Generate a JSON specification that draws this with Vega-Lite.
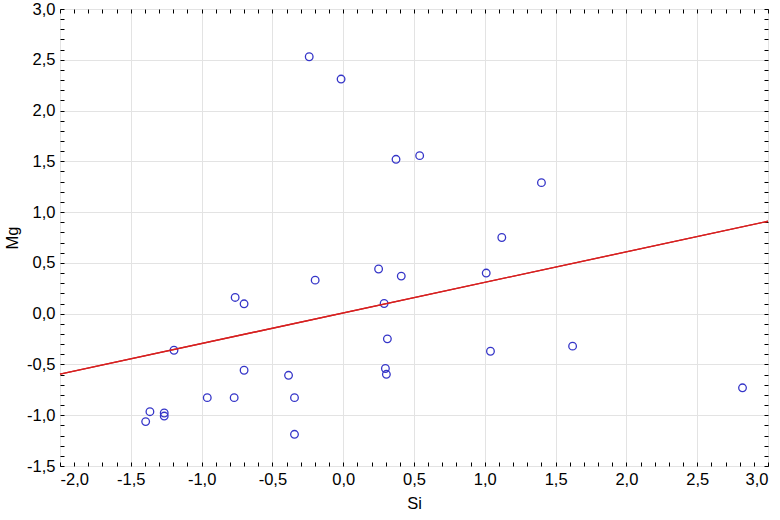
{
  "$schema": "https://vega.github.io/schema/vega-lite/v6.json",
  "width": 708,
  "height": 457,
  "autosize": {"type": "none"},
  "padding": {"left": 60, "top": 9, "right": 12, "bottom": 54},
  "background": "white",
  "config": {
    "view": {"stroke": "#000000", "strokeWidth": 1},
    "font": "Liberation Sans, Arial, sans-serif",
    "axis": {
      "labelFont": "Liberation Sans, Arial, sans-serif",
      "titleFont": "Liberation Sans, Arial, sans-serif",
      "labelFontSize": 16.5,
      "titleFontSize": 16.5,
      "labelColor": "#000000",
      "titleColor": "#000000",
      "titleFontWeight": "normal",
      "gridColor": "#e3e3e3",
      "gridWidth": 1,
      "domain": false
    }
  },
  "datasets": {
    "pts": [
      {"Si": -0.24, "Mg": 2.53},
      {"Si": -0.015, "Mg": 2.31},
      {"Si": 0.373, "Mg": 1.52},
      {"Si": 0.54, "Mg": 1.556},
      {"Si": 1.40, "Mg": 1.29},
      {"Si": 1.12, "Mg": 0.75},
      {"Si": 1.01, "Mg": 0.40},
      {"Si": 0.25, "Mg": 0.44},
      {"Si": 0.41, "Mg": 0.37},
      {"Si": -0.198, "Mg": 0.33},
      {"Si": -0.763, "Mg": 0.16},
      {"Si": -0.70, "Mg": 0.097},
      {"Si": 0.289, "Mg": 0.10},
      {"Si": 0.312, "Mg": -0.248},
      {"Si": -1.195, "Mg": -0.36},
      {"Si": -0.70, "Mg": -0.557},
      {"Si": -0.386, "Mg": -0.607},
      {"Si": 0.298, "Mg": -0.54},
      {"Si": 0.305, "Mg": -0.597},
      {"Si": 1.04, "Mg": -0.37},
      {"Si": 1.62, "Mg": -0.32},
      {"Si": 2.82, "Mg": -0.73},
      {"Si": -0.96, "Mg": -0.827},
      {"Si": -0.77, "Mg": -0.827},
      {"Si": -0.344, "Mg": -0.827},
      {"Si": -0.344, "Mg": -1.188},
      {"Si": -1.365, "Mg": -0.965},
      {"Si": -1.264, "Mg": -0.978},
      {"Si": -1.264, "Mg": -1.008},
      {"Si": -1.395, "Mg": -1.063}
    ],
    "fit": [
      {"Si": -2.0, "Mg": -0.595},
      {"Si": 3.0, "Mg": 0.91}
    ]
  },
  "layer": [
    {
      "data": {"name": "pts"},
      "mark": {"type": "point", "shape": "circle", "filled": false, "stroke": "#3535c8", "strokeWidth": 1.3, "size": 58, "opacity": 1},
      "encoding": {
        "x": {
          "field": "Si", "type": "quantitative",
          "scale": {"domain": [-2, 3], "nice": false, "zero": false},
          "axis": {
            "orient": "bottom", "title": "Si", "grid": true, "ticks": false,
            "values": [-2, -1.5, -1, -0.5, 0, 0.5, 1, 1.5, 2, 2.5, 3],
            "labelPadding": 5, "titlePadding": 8,
            "labelExpr": "replace(replace(format(datum.value, '.1f'), '.', ','), '\u2212', '-')"
          }
        },
        "y": {
          "field": "Mg", "type": "quantitative",
          "scale": {"domain": [-1.5, 3], "nice": false, "zero": false},
          "axis": {
            "orient": "left", "title": "Mg", "grid": true, "ticks": false,
            "values": [-1.5, -1, -0.5, 0, 0.5, 1, 1.5, 2, 2.5, 3],
            "labelPadding": 5, "titlePadding": 6,
            "labelExpr": "replace(replace(format(datum.value, '.1f'), '.', ','), '\u2212', '-')"
          }
        }
      }
    },
    {
      "data": {"name": "fit"},
      "mark": {"type": "line", "color": "#d62020", "strokeWidth": 1.3},
      "encoding": {
        "x": {
          "field": "Si", "type": "quantitative",
          "axis": {"orient": "bottom", "offset": -4, "title": null, "labels": false, "grid": false, "ticks": true, "tickCount": 50, "tickSize": 4, "tickColor": "#000000", "tickWidth": 1}
        },
        "y": {
          "field": "Mg", "type": "quantitative",
          "axis": {"orient": "left", "offset": -4, "title": null, "labels": false, "grid": false, "ticks": true, "tickCount": 45, "tickSize": 4, "tickColor": "#000000", "tickWidth": 1}
        }
      }
    },
    {
      "data": {"name": "fit"},
      "mark": {"type": "line", "color": "#d62020", "strokeWidth": 1.3},
      "encoding": {
        "x": {
          "field": "Si", "type": "quantitative",
          "axis": {"orient": "top", "offset": -4, "title": null, "labels": false, "grid": false, "ticks": true, "tickCount": 50, "tickSize": 4, "tickColor": "#000000", "tickWidth": 1}
        },
        "y": {
          "field": "Mg", "type": "quantitative",
          "axis": {"orient": "right", "offset": -4, "title": null, "labels": false, "grid": false, "ticks": true, "tickCount": 45, "tickSize": 4, "tickColor": "#000000", "tickWidth": 1}
        }
      }
    }
  ],
  "resolve": {"axis": {"x": "independent", "y": "independent"}}
}
